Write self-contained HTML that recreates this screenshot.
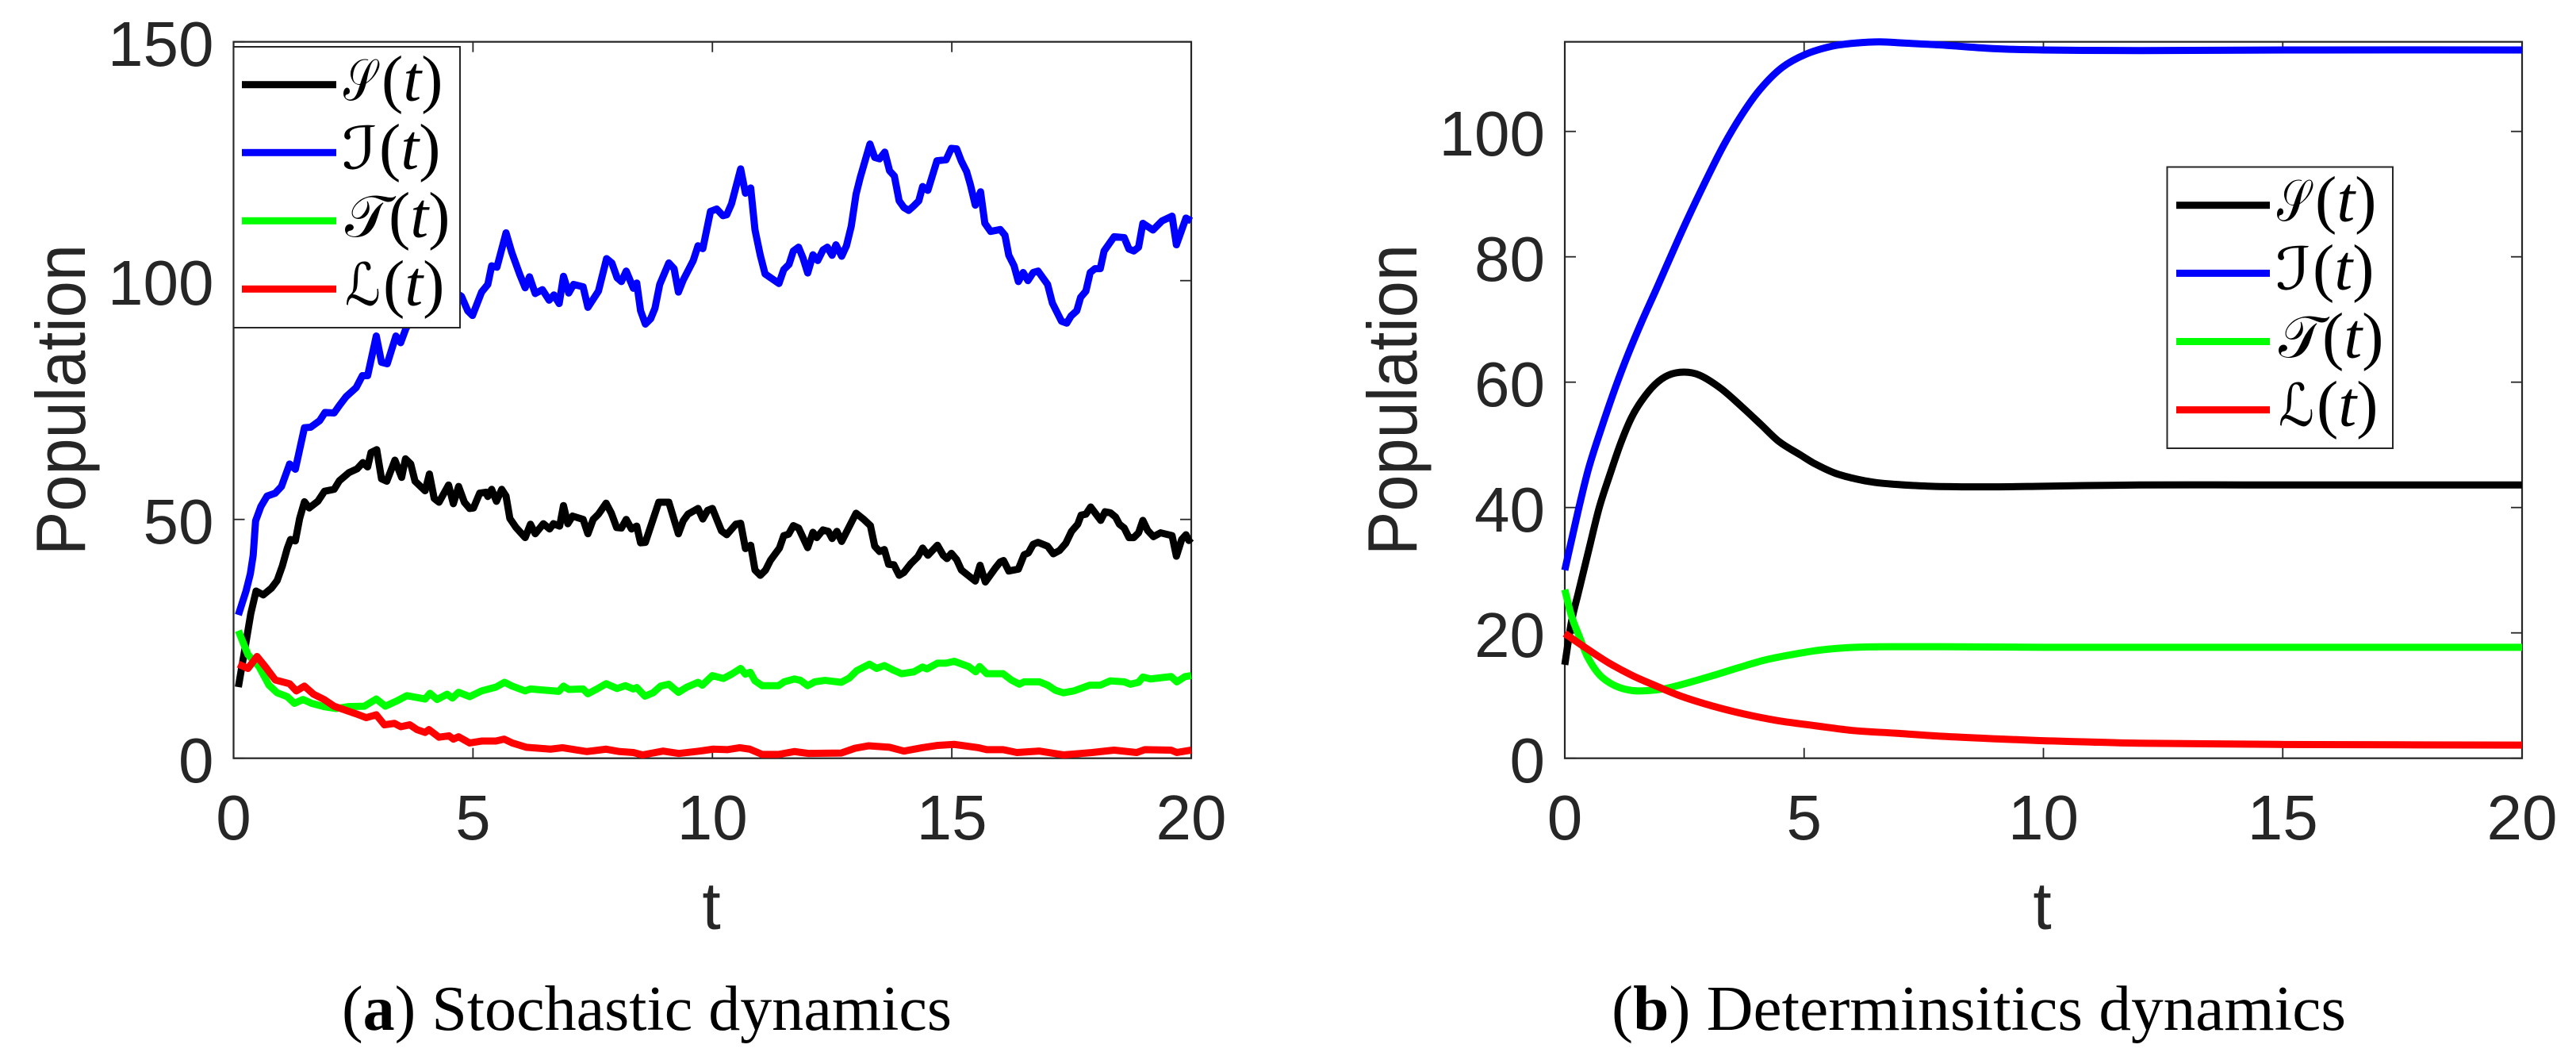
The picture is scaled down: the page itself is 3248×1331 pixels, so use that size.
<!DOCTYPE html>
<html lang="en">
<head>
<meta charset="utf-8">
<title>Stochastic and deterministic population dynamics</title>
<style>
html,body{margin:0;padding:0;background:#fff;width:3248px;height:1331px;overflow:hidden}
svg{display:block}
.tk{font-family:"Liberation Sans",sans-serif;font-size:80px;fill:#262626}
.ttl{font-family:"Liberation Sans",sans-serif;font-size:88px;fill:#262626}
.cap{font-family:"Liberation Serif",serif;font-size:80px;fill:#000}
.lg{font-family:"Liberation Serif",serif;font-size:82px;fill:#000}
.i{font-style:italic}
.sc{font-family:"DejaVu Serif","DejaVu Sans","Liberation Serif",serif;font-size:74px}
</style>
</head>
<body>
<svg xmlns="http://www.w3.org/2000/svg" width="3248" height="1331" viewBox="0 0 3248 1331">
  <rect x="0" y="0" width="3248" height="1331" fill="#fff"/>

  <g id="panel-a">
    <g id="axes-a"></g>
    <g id="marks-a"></g>
    <text class="ttl" transform="translate(107,700) rotate(-90)" textLength="392" lengthAdjust="spacingAndGlyphs">Population</text>
    <text class="ttl" x="897" y="1171" text-anchor="middle" style="font-size:84px">t</text>
    <g>
      <rect x="294.5" y="59" width="285.5" height="354" fill="#fff" stroke="#262626" stroke-width="2"/>
      <rect x="305" y="102.2" width="119" height="9" fill="#000"/>
      <rect x="305" y="187.8" width="119" height="9" fill="#0000ff"/>
      <rect x="305" y="273.8" width="119" height="9" fill="#00ff00"/>
      <rect x="305" y="359.8" width="119" height="9" fill="#ff0000"/>
      <g class="lg"><text class="sc" x="433" y="126.7" textLength="41" lengthAdjust="spacingAndGlyphs">&#x1D4AE;</text><text x="481" y="126.7">(<tspan class="i">t</tspan>)</text></g>
      <g class="lg"><text class="sc" x="431" y="212.3" textLength="46" lengthAdjust="spacingAndGlyphs">&#x2110;</text><text x="478" y="212.3">(<tspan class="i">t</tspan>)</text></g>
      <g class="lg"><text class="sc" x="435" y="298.3" textLength="56" lengthAdjust="spacingAndGlyphs">&#x1D4AF;</text><text x="490" y="298.3">(<tspan class="i">t</tspan>)</text></g>
      <g class="lg"><text class="sc" x="435" y="384.3" textLength="45" lengthAdjust="spacingAndGlyphs">&#x2112;</text><text x="483" y="384.3">(<tspan class="i">t</tspan>)</text></g>
    </g>
    <text class="cap" x="431" y="1298" textLength="769" lengthAdjust="spacingAndGlyphs">(<tspan font-weight="bold">a</tspan>) Stochastic dynamics</text>
  </g>

  <g id="panel-b">
    <g id="axes-b"></g>
    <g id="marks-b"></g>
    <text class="ttl" transform="translate(1786,700) rotate(-90)" textLength="392" lengthAdjust="spacingAndGlyphs">Population</text>
    <text class="ttl" x="2575" y="1171" text-anchor="middle" style="font-size:84px">t</text>
    <g>
      <rect x="2732.5" y="210.5" width="284.5" height="354.5" fill="#fff" stroke="#262626" stroke-width="2"/>
      <rect x="2744" y="254.2" width="118" height="9" fill="#000"/>
      <rect x="2744" y="339.9" width="118" height="9" fill="#0000ff"/>
      <rect x="2744" y="426" width="118" height="9" fill="#00ff00"/>
      <rect x="2744" y="512.1" width="118" height="9" fill="#ff0000"/>
      <g class="lg"><text class="sc" x="2871" y="278.7" textLength="41" lengthAdjust="spacingAndGlyphs">&#x1D4AE;</text><text x="2919" y="278.7">(<tspan class="i">t</tspan>)</text></g>
      <g class="lg"><text class="sc" x="2869" y="364.4" textLength="46" lengthAdjust="spacingAndGlyphs">&#x2110;</text><text x="2916" y="364.4">(<tspan class="i">t</tspan>)</text></g>
      <g class="lg"><text class="sc" x="2873" y="450.5" textLength="56" lengthAdjust="spacingAndGlyphs">&#x1D4AF;</text><text x="2928" y="450.5">(<tspan class="i">t</tspan>)</text></g>
      <g class="lg"><text class="sc" x="2873" y="536.6" textLength="45" lengthAdjust="spacingAndGlyphs">&#x2112;</text><text x="2921" y="536.6">(<tspan class="i">t</tspan>)</text></g>
    </g>
    <text class="cap" x="2032" y="1298" textLength="926" lengthAdjust="spacingAndGlyphs">(<tspan font-weight="bold">b</tspan>) Determinsitics dynamics</text>
  </g>
</svg>

<script>
// ---------- Panel (a): stochastic dynamics ----------
const xTicksA = [0, 5, 10, 15, 20];
const yTicksA = [0, 50, 100, 150];

const stochTimeS = [0.10,0.24,0.36,0.47,0.62,0.79,0.91,1.02,1.12,1.19,1.29,1.38,1.48,1.58,1.76,1.90,2.10,2.21,2.41,2.58,2.70,2.80,2.87,2.99,3.09,3.20,3.37,3.51,3.59,3.70,3.79,4.00,4.09,4.19,4.29,4.49,4.59,4.70,4.82,4.93,5.01,5.14,5.27,5.31,5.39,5.49,5.60,5.69,5.77,5.90,6.09,6.20,6.30,6.47,6.60,6.68,6.81,6.89,6.98,7.08,7.30,7.40,7.51,7.62,7.78,7.89,8.00,8.10,8.20,8.31,8.42,8.50,8.60,8.88,9.09,9.29,9.39,9.49,9.70,9.80,9.90,10.0,10.19,10.30,10.49,10.59,10.69,10.80,10.89,11.0,11.11,11.21,11.40,11.49,11.59,11.69,11.80,11.99,12.10,12.18,12.31,12.42,12.5,12.6,12.7,13.0,13.15,13.3,13.39,13.49,13.59,13.68,13.79,13.9,14.0,14.14,14.29,14.39,14.5,14.7,14.82,14.9,14.99,15.1,15.2,15.49,15.59,15.7,15.9,16.01,16.08,16.19,16.39,16.51,16.6,16.7,16.8,17.0,17.12,17.25,17.38,17.5,17.63,17.7,17.8,17.9,18.11,18.2,18.31,18.42,18.5,18.6,18.7,18.8,18.9,18.99,19.09,19.21,19.36,19.6,19.69,19.8,19.89,19.95,20.0];
const stochS = [14.9,23.1,30.3,35.0,34.2,35.6,37.2,40.3,43.9,45.8,45.5,50.2,53.7,52.4,53.8,55.9,56.3,58.1,59.8,60.6,61.9,61.0,64.0,64.6,58.5,58.0,62.4,58.8,62.7,61.6,58.0,56.0,59.5,54.4,53.6,57.2,53.3,56.9,53.6,52.3,52.4,55.5,55.7,54.8,56.3,53.8,56.3,54.9,50.2,48.3,46.2,49.0,47.0,49.1,48.0,49.1,48.6,52.9,49.1,50.7,50.0,47.0,50.0,51.1,53.4,51.3,48.3,48.2,50.0,48.0,48.6,45.1,45.2,53.6,53.6,47.0,49.7,51.1,52.3,50.1,51.9,52.3,47.6,46.8,49.0,49.2,43.9,44.6,39.4,38.3,39.4,41.4,44.0,46.6,46.9,48.7,48.2,44.1,47.3,46.2,47.8,47.5,46.0,47.5,45.4,51.3,50.1,48.7,44.4,43.3,43.7,40.6,40.5,38.3,38.9,40.7,42.2,44.0,42.5,44.6,42.5,41.8,42.9,41.6,39.4,37.1,40.4,36.9,39.7,41.1,41.4,39.2,39.6,42.6,43.0,44.8,45.2,44.4,42.8,43.5,45.0,47.5,49.0,50.9,51.1,52.6,49.8,51.6,51.4,50.5,49.0,48.2,46.2,46.2,47.2,49.8,47.7,46.4,47.2,46.6,42.3,45.8,46.8,45.6,46.1];

const stochTimeI = [0.10,0.26,0.35,0.41,0.46,0.57,0.70,0.87,1.0,1.17,1.29,1.48,1.61,1.80,1.91,2.10,2.22,2.35,2.56,2.69,2.80,2.98,3.09,3.21,3.39,3.49,3.6,4.0,4.4,4.76,4.89,4.99,5.18,5.31,5.39,5.50,5.69,5.81,5.98,6.09,6.18,6.30,6.45,6.59,6.69,6.80,6.89,7.0,7.10,7.30,7.40,7.62,7.79,7.90,8.01,8.10,8.20,8.35,8.42,8.50,8.60,8.71,8.8,8.9,9.09,9.2,9.29,9.39,9.6,9.7,9.8,9.96,10.09,10.22,10.3,10.4,10.59,10.69,10.8,10.89,11.0,11.1,11.29,11.39,11.49,11.6,11.69,11.8,11.89,11.99,12.1,12.2,12.31,12.4,12.5,12.58,12.7,12.8,12.9,13.0,13.09,13.29,13.39,13.49,13.6,13.7,13.8,13.9,14.0,14.1,14.2,14.31,14.39,14.5,14.69,14.88,14.99,15.1,15.2,15.31,15.39,15.49,15.6,15.69,15.81,16.01,16.11,16.19,16.3,16.39,16.49,16.59,16.7,16.8,17.0,17.1,17.29,17.4,17.49,17.61,17.69,17.8,17.89,17.99,18.1,18.18,18.39,18.6,18.7,18.8,18.9,18.99,19.2,19.39,19.6,19.69,19.89,20.0];
const stochI = [30.0,35.0,38.6,42.5,49.7,52.7,54.9,55.5,56.9,61.6,60.5,69.2,69.3,70.7,72.4,72.3,74.0,75.7,77.6,80.1,80.1,88.4,82.9,82.6,88.4,87.0,90,96,99,96.7,93.7,92.7,97.6,99.2,103.1,102.8,110.0,105.9,101.2,98.5,100.8,97.3,98.1,95.9,97.0,95.2,100.9,97.4,99.2,98.7,94.4,97.8,104.6,103.7,100.6,99.8,102,98.4,99.5,93.7,90.9,92.0,94.2,99.2,103.7,102.5,97.6,100.1,104.2,107.3,106.7,114.5,115.0,113.6,113.8,116.1,123.4,118.3,119.4,110.6,105.3,101.4,100.1,99.4,102.3,103.4,106.2,107,104.8,101.6,105.4,104.2,106.4,107,105.3,107.5,105.1,107.3,111.4,118.1,121.7,128.6,125.8,125.5,126.9,123.0,121.9,116.7,115.3,114.7,115.6,116.7,119.7,118.9,125.1,125.3,127.7,127.6,125.0,122.8,120,115.8,118.6,112,110.3,110.7,109.5,105.3,103.1,99.8,101.7,100,101.7,102,99.2,95.3,91.5,91.1,92.6,93.7,96.5,97.8,101.7,102.5,102.5,106.2,109.2,109.0,106.6,106.2,107,112,110.6,112.5,113.5,107.5,113.1,112.5];

const stochTimeT = [0.10,0.30,0.53,0.74,0.91,1.12,1.27,1.45,1.63,1.89,2.14,2.39,2.73,2.98,3.17,3.41,3.62,4.0,4.1,4.25,4.46,4.57,4.7,4.93,5.18,5.48,5.66,5.82,6.09,6.2,6.79,6.89,7.0,7.3,7.4,7.59,7.78,8.01,8.18,8.35,8.42,8.59,8.76,8.92,9.09,9.29,9.47,9.7,9.79,10.0,10.23,10.4,10.59,10.69,10.79,10.89,11.04,11.38,11.5,11.71,11.84,11.99,12.14,12.35,12.69,12.86,13.01,13.28,13.43,13.59,13.79,13.95,14.21,14.39,14.48,14.7,14.88,15.05,15.35,15.5,15.58,15.73,16.07,16.24,16.41,16.51,16.83,17.0,17.17,17.33,17.55,17.88,18.1,18.31,18.6,18.73,18.9,18.99,19.15,19.58,19.7,19.87,20.0];
const stochT = [26.7,21.7,19.2,15.3,13.7,12.9,11.5,12.3,11.5,10.8,10.4,10.8,10.9,12.4,10.9,12.0,13.1,12.4,13.6,12.3,13.4,12.6,13.8,12.9,14.1,14.9,15.9,15.1,14.1,14.5,14.0,15.1,14.4,14.5,13.5,14.5,15.6,14.6,15.2,14.5,14.8,13.0,13.7,15.1,15.5,13.8,14.9,15.9,15.3,17.3,16.7,17.6,18.8,17.6,18.0,16.2,15.2,15.2,16.0,16.6,16.3,15.2,16.0,16.3,15.9,16.8,18.3,19.7,18.8,19.4,18.4,17.7,18.1,19.1,18.7,19.9,19.9,20.3,19.2,18.1,19.2,17.7,17.7,16.4,15.5,16.0,16.0,15.3,14.2,13.7,14.1,15.3,15.3,16.2,16.0,15.5,15.9,17.0,16.6,17.1,16.0,17.1,17.3];

const stochTimeL = [0.10,0.30,0.49,0.66,0.87,1.17,1.31,1.48,1.67,1.89,2.1,2.56,2.77,2.98,3.15,3.36,3.49,3.68,3.83,4.0,4.08,4.29,4.5,4.59,4.7,4.93,5.18,5.48,5.65,5.82,6.11,6.62,6.87,7.38,7.78,8.06,8.35,8.54,8.97,9.3,9.73,10.02,10.32,10.57,10.78,11.04,11.38,11.71,12.01,12.69,12.98,13.26,13.7,14.0,14.38,14.71,15.05,15.56,15.73,16.07,16.36,16.83,17.33,17.93,18.39,18.86,19.03,19.58,19.7,20.0];
const stochL = [19.7,18.8,21.3,19.2,16.4,15.6,14.1,15.1,13.4,12.3,10.9,9.3,8.5,9.1,7.0,7.3,6.6,7.0,6.0,5.4,6.0,4.4,4.7,4.0,4.5,3.2,3.6,3.6,4.0,3.2,2.3,1.9,2.2,1.4,1.9,1.4,1.2,0.7,1.5,1.0,1.5,1.9,1.8,2.2,1.9,0.8,0.8,1.4,1.0,1.1,2.1,2.6,2.3,1.5,2.2,2.7,2.9,2.2,1.8,1.8,1.2,1.5,0.7,1.2,1.7,1.2,1.8,1.7,1.2,1.7];

// ---------- Panel (b): deterministic dynamics ----------
const xTicksB = [0, 5, 10, 15, 20];
const yTicksB = [0, 20, 40, 60, 80, 100];

const detTimeS = [0,0.14,0.28,0.50,0.72,0.94,1.17,1.39,1.61,1.88,2.16,2.49,2.82,3.26,3.71,4.09,4.48,4.92,5.22,5.64,6.06,6.48,6.91,7.33,7.84,9,10,12,15,20];
const detS = [14.9,21.8,26.3,33.2,40.0,45.2,50.3,54.3,57.1,59.6,61.1,61.6,61.1,59.0,56.0,53.3,50.5,48.4,47.0,45.5,44.6,44.0,43.7,43.5,43.35,43.3,43.4,43.6,43.6,43.6];

const detTimeI = [0,0.28,0.50,0.78,1.06,1.33,1.61,1.91,2.46,2.93,3.32,3.71,4.09,4.54,5.03,5.58,6.08,6.58,7.08,7.85,9,10,12,15,20];
const detI = [30.0,39.5,46.3,53.0,59.2,64.6,69.7,74.8,84.3,91.9,97.8,102.8,106.8,110.2,112.3,113.6,114.1,114.3,114.1,113.8,113.2,113.0,112.9,113,113];

const detTimeT = [0,0.14,0.31,0.48,0.74,1.07,1.41,1.75,2.09,2.51,3.1,3.61,4.2,4.79,5.38,6.06,6.91,7.84,10,15,20];
const detT = [26.9,22.7,19.3,16.1,13.2,11.5,10.8,10.8,11.1,11.9,13.2,14.4,15.7,16.6,17.3,17.7,17.8,17.8,17.7,17.7,17.7];

const detTimeL = [0,0.40,0.90,1.41,1.92,2.43,3.1,3.78,4.45,5.22,6.06,6.91,7.88,9,10,12,15,20];
const detL = [19.9,17.8,15.3,13.2,11.5,9.9,8.3,7.0,6.0,5.2,4.4,4.0,3.5,3.1,2.8,2.4,2.2,2.1];

const SVG_NS = 'http://www.w3.org/2000/svg';
const INK = '#262626';
const COLOR_S = '#000000';
const COLOR_I = '#0000ff';
const COLOR_T = '#00ff00';
const COLOR_L = '#ff0000';

function linearScale(domain0, domain1, range0, range1) {
  return function (v) {
    return range0 + (v - domain0) * (range1 - range0) / (domain1 - domain0);
  };
}

function buildAxes(group, panel, xScale, yScale, xTicks, yTicks, box) {
  const frame = document.createElementNS(SVG_NS, 'rect');
  frame.setAttribute('x', box.left);
  frame.setAttribute('y', box.top);
  frame.setAttribute('width', box.right - box.left);
  frame.setAttribute('height', box.bottom - box.top);
  frame.setAttribute('fill', 'none');
  frame.setAttribute('stroke', INK);
  frame.setAttribute('stroke-width', '2.2');
  
  
  group.appendChild(frame);

  xTicks.forEach(function (tick) {
    const x = xScale(tick);
    [[box.bottom, box.bottom - 13], [box.top, box.top + 13]].forEach(function (pair) {
      const mark = document.createElementNS(SVG_NS, 'line');
      mark.setAttribute('x1', x);
      mark.setAttribute('x2', x);
      mark.setAttribute('y1', pair[0]);
      mark.setAttribute('y2', pair[1]);
      mark.setAttribute('stroke', INK);
      mark.setAttribute('stroke-width', '1.8');
      
      
      group.appendChild(mark);
    });
    const label = document.createElementNS(SVG_NS, 'text');
    label.setAttribute('x', x);
    label.setAttribute('y', 1058);
    label.setAttribute('text-anchor', 'middle');
    label.setAttribute('class', 'tk');
    
    
    label.textContent = String(tick);
    group.appendChild(label);
  });

  yTicks.forEach(function (tick) {
    const y = yScale(tick);
    [[box.left, box.left + 14], [box.right, box.right - 14]].forEach(function (pair) {
      const mark = document.createElementNS(SVG_NS, 'line');
      mark.setAttribute('x1', pair[0]);
      mark.setAttribute('x2', pair[1]);
      mark.setAttribute('y1', y);
      mark.setAttribute('y2', y);
      mark.setAttribute('stroke', INK);
      mark.setAttribute('stroke-width', '1.8');
      
      
      group.appendChild(mark);
    });
    const label = document.createElementNS(SVG_NS, 'text');
    label.setAttribute('x', box.left - 25);
    label.setAttribute('y', y + 30.5);
    label.setAttribute('text-anchor', 'end');
    label.setAttribute('class', 'tk');
    
    
    label.textContent = String(tick);
    group.appendChild(label);
  });
}

// Jagged sample path: straight segments between read values.
function drawSeries(group, seriesName, times, values, color, xScale, yScale) {
  const points = times.map(function (t, i) {
    return xScale(t).toFixed(2) + ',' + yScale(values[i]).toFixed(2);
  }).join(' ');
  const line = document.createElementNS(SVG_NS, 'polyline');
  line.setAttribute('points', points);
  line.setAttribute('fill', 'none');
  line.setAttribute('stroke', color);
  line.setAttribute('stroke-width', '9');
  line.setAttribute('stroke-linejoin', 'round');
  
  
  group.appendChild(line);
}

// Smooth ODE solution: a Catmull-Rom curve through the read values.
function drawSmoothSeries(group, seriesName, times, values, color, xScale, yScale) {
  const px = times.map(xScale);
  const py = values.map(yScale);
  let d = 'M' + px[0].toFixed(2) + ' ' + py[0].toFixed(2);
  for (let i = 0; i < px.length - 1; i++) {
    const a = Math.max(i - 1, 0);
    const b = Math.min(i + 2, px.length - 1);
    const dx = px[i + 1] - px[i];
    const m0 = (py[i + 1] - py[a]) / (px[i + 1] - px[a]);
    const m1 = (py[b] - py[i]) / (px[b] - px[i]);
    d += ' C' + (px[i] + dx / 3).toFixed(2) + ' ' + (py[i] + m0 * dx / 3).toFixed(2) +
         ' ' + (px[i + 1] - dx / 3).toFixed(2) + ' ' + (py[i + 1] - m1 * dx / 3).toFixed(2) +
         ' ' + px[i + 1].toFixed(2) + ' ' + py[i + 1].toFixed(2);
  }
  const curve = document.createElementNS(SVG_NS, 'path');
  curve.setAttribute('d', d);
  curve.setAttribute('fill', 'none');
  curve.setAttribute('stroke', color);
  curve.setAttribute('stroke-width', '9');
  curve.setAttribute('stroke-linejoin', 'round');
  
  
  group.appendChild(curve);
}

const boxA = { left: 294.5, right: 1502, top: 52.7, bottom: 955.7 };
const xScaleA = linearScale(0, 20, boxA.left, boxA.right);
const yScaleA = linearScale(0, 150, boxA.bottom, boxA.top);
buildAxes(document.getElementById('axes-a'), 'a', xScaleA, yScaleA, xTicksA, yTicksA, boxA);
const marksA = document.getElementById('marks-a');
drawSeries(marksA, 'series-s-stochastic', stochTimeS, stochS, COLOR_S, xScaleA, yScaleA);
drawSeries(marksA, 'series-i-stochastic', stochTimeI, stochI, COLOR_I, xScaleA, yScaleA);
drawSeries(marksA, 'series-t-stochastic', stochTimeT, stochT, COLOR_T, xScaleA, yScaleA);
drawSeries(marksA, 'series-l-stochastic', stochTimeL, stochL, COLOR_L, xScaleA, yScaleA);

const boxB = { left: 1973, right: 3180, top: 52.7, bottom: 955.7 };
const xScaleB = linearScale(0, 20, boxB.left, boxB.right);
const yScaleB = linearScale(0, 114.3, boxB.bottom, boxB.top);
buildAxes(document.getElementById('axes-b'), 'b', xScaleB, yScaleB, xTicksB, yTicksB, boxB);
const marksB = document.getElementById('marks-b');
drawSmoothSeries(marksB, 'series-s-deterministic', detTimeS, detS, COLOR_S, xScaleB, yScaleB);
drawSmoothSeries(marksB, 'series-i-deterministic', detTimeI, detI, COLOR_I, xScaleB, yScaleB);
drawSmoothSeries(marksB, 'series-t-deterministic', detTimeT, detT, COLOR_T, xScaleB, yScaleB);
drawSmoothSeries(marksB, 'series-l-deterministic', detTimeL, detL, COLOR_L, xScaleB, yScaleB);
</script>
</body>
</html>
